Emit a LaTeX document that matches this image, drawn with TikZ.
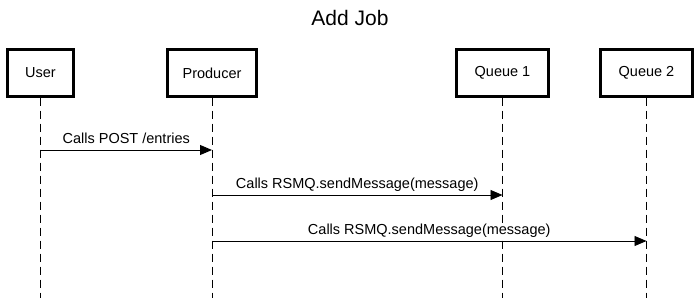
\documentclass[tikz,border=0pt]{standalone}
\usepackage{fontspec}
\setmainfont{Liberation Sans}
\usetikzlibrary{arrows.meta}

\tikzset{
  actor/.style={draw=black, fill=white, line width=2.2pt, minimum height=47pt,
    inner sep=0pt, font=\fontsize{14.5}{17}\selectfont},
  lifeline/.style={line width=0.9pt, dash pattern=on 8pt off 5pt},
  msg/.style={line width=0.9pt, -{Triangle[length=12pt,width=10pt]}},
  msglabel/.style={anchor=base, yshift=7pt, fill=white, inner sep=1pt,
    font=\fontsize{14.5}{17}\selectfont}
}

\begin{document}
\begin{tikzpicture}[x=1pt, y=-1pt]
   \useasboundingbox (0,0) rectangle (700,298);

   \node[font=\fontsize{21}{25}\selectfont, anchor=base] (title) at (350,25) {Add Job};

   % participants
   \node[actor, minimum width=66pt] (user) at (40.5,73) {User};
   \node[actor, minimum width=89pt] (producer) at (212,73) {Producer};
   \node[actor, minimum width=92pt] (queue1) at (502.5,73) {Queue 1};
   \node[actor, minimum width=92pt] (queue2) at (646.5,73) {Queue 2};

   % lifelines
   \coordinate (userEnd) at (40.5,298);
   \coordinate (producerEnd) at (212,298);
   \coordinate (queue1End) at (502.5,298);
   \coordinate (queue2End) at (646.5,298);
   \draw[lifeline] (user.south) -- (userEnd);
   \draw[lifeline] (producer.south) -- (producerEnd);
   \draw[lifeline] (queue1.south) -- (queue1End);
   \draw[lifeline] (queue2.south) -- (queue2End);

   % messages
   \coordinate (userA) at (40.5,150);
   \coordinate (producerA) at (212,150);
   \coordinate (producerB) at (212,195);
   \coordinate (queue1B) at (502.5,195);
   \coordinate (producerC) at (212,241);
   \coordinate (queue2C) at (646.5,241);

   \draw[msg] (userA) -- node[msglabel] {Calls POST /entries} (producerA);
   \draw[msg] (producerB) -- node[msglabel] {Calls RSMQ.sendMessage(message)} (queue1B);
   \draw[msg] (producerC) -- node[msglabel] {Calls RSMQ.sendMessage(message)} (queue2C);
\end{tikzpicture}
\end{document}
